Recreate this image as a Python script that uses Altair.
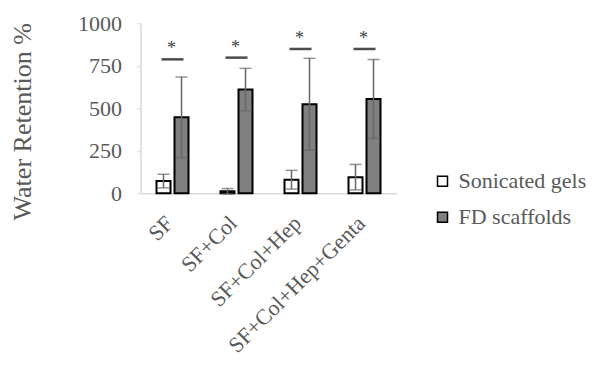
import altair as alt
import pandas as pd

categories = ["SF", "SF+Col", "SF+Col+Hep", "SF+Col+Hep+Genta"]
groups = ["Sonicated gels", "FD scaffolds"]
sonicated = [72, 12, 80, 95]
sonicated_err = [40, 16, 55, 75]
fd = [447, 610, 524, 555]
fd_err = [237, 125, 270, 232]
sig_level = [788, 798, 849, 849]
y_ticks = [0, 250, 500, 750, 1000]

rows = []
for i, c in enumerate(categories):
    for g, v, e in ((groups[0], sonicated[i], sonicated_err[i]), (groups[1], fd[i], fd_err[i])):
        rows.append({"Category": c, "Group": g, "value": v, "lo": v - e, "hi": v + e})
df = pd.DataFrame(rows)
sig = pd.DataFrame({"Category": categories, "sig": sig_level})

FONT = "Liberation Serif"
TXT = "#595959"
YT = "Water Retention %"

x = alt.X("Category:N", sort=categories, title=None,
          scale=alt.Scale(paddingInner=0.4375, paddingOuter=0.21875))
xo = alt.XOffset("Group:N", sort=groups,
                 scale=alt.Scale(paddingInner=0.222, paddingOuter=0.111))
yscale = alt.Scale(domain=[0, 1000])
yaxis = alt.Axis(values=y_ticks, format="d", tickSize=4, labelFontSize=22, labelPadding=15,
                 titleFontSize=26, titleY=98, titleX=-110.5, titleBaseline="alphabetic",
                 titleAlign="center", titleAngle=270)

bars = alt.Chart(df).mark_bar(stroke="black", strokeWidth=2).encode(
    x=x, xOffset=xo,
    y=alt.Y("value:Q", scale=yscale, title=YT, axis=yaxis),
    fill=alt.Fill("Group:N", sort=groups,
                  scale=alt.Scale(domain=groups, range=["white", "#808080"]),
                  legend=alt.Legend(title=None, orient="none", legendX=291, legendY=147,
                                    symbolType="square", symbolSize=100,
                                    symbolStrokeColor="black", symbolStrokeWidth=1.5,
                                    labelFont=FONT, labelFontSize=22, labelColor=TXT,
                                    labelLimit=0,
                                    rowPadding=14, labelOffset=5, padding=0)),
)

rule = alt.Chart(df).mark_rule(color="#666666", strokeWidth=1.5).encode(
    x=x, xOffset=xo,
    y=alt.Y("lo:Q", scale=yscale, title=YT, axis=yaxis), y2="hi:Q",
)
cap_hi = alt.Chart(df).mark_tick(color="#666666", thickness=1.5, size=12).encode(
    x=x, xOffset=xo, y=alt.Y("hi:Q", scale=yscale, title=YT, axis=yaxis),
)
cap_lo = alt.Chart(df).mark_tick(color="#666666", thickness=1.5, size=12).encode(
    x=x, xOffset=xo, y=alt.Y("lo:Q", scale=yscale, title=YT, axis=yaxis),
)
sig_line = alt.Chart(sig).mark_tick(color="black", thickness=2.5, size=22).encode(
    x=x, y=alt.Y("sig:Q", scale=yscale, title=YT, axis=yaxis),
)
star = alt.Chart(sig).mark_text(text="*", font=FONT, fontSize=18, color="#404040",
                                 baseline="bottom", dy=-1, dx=-1).encode(
    x=x, y=alt.Y("sig:Q", scale=yscale, title=YT, axis=yaxis),
)

chart = alt.layer(bars, rule, cap_lo, cap_hi, sig_line, star).properties(
    width=256, height=170,
    autosize=alt.AutoSizeParams(type="none"),
    padding={"left": 132.5, "top": 15.3, "right": 191.5, "bottom": 167.7},
).configure(font=FONT).configure_view(stroke=None).configure_axis(
    grid=False, domainColor="#d9d9d9", domainWidth=1.5, tickColor="#d9d9d9",
    labelFont=FONT, labelColor=TXT, titleFont=FONT, titleColor=TXT,
    titleFontWeight="normal",
).configure_axisX(
    ticks=False, labelAngle=-45, labelAlign="right", labelBaseline="middle",
    labelFontSize=22, labelPadding=26, labelOffset=-3, labelLimit=0,
).configure_legend(
    labelFont=FONT, labelFontSize=22, labelColor=TXT, labelLimit=0,
)

chart.save("out.html", embed_options={"renderer": "svg", "actions": False})
